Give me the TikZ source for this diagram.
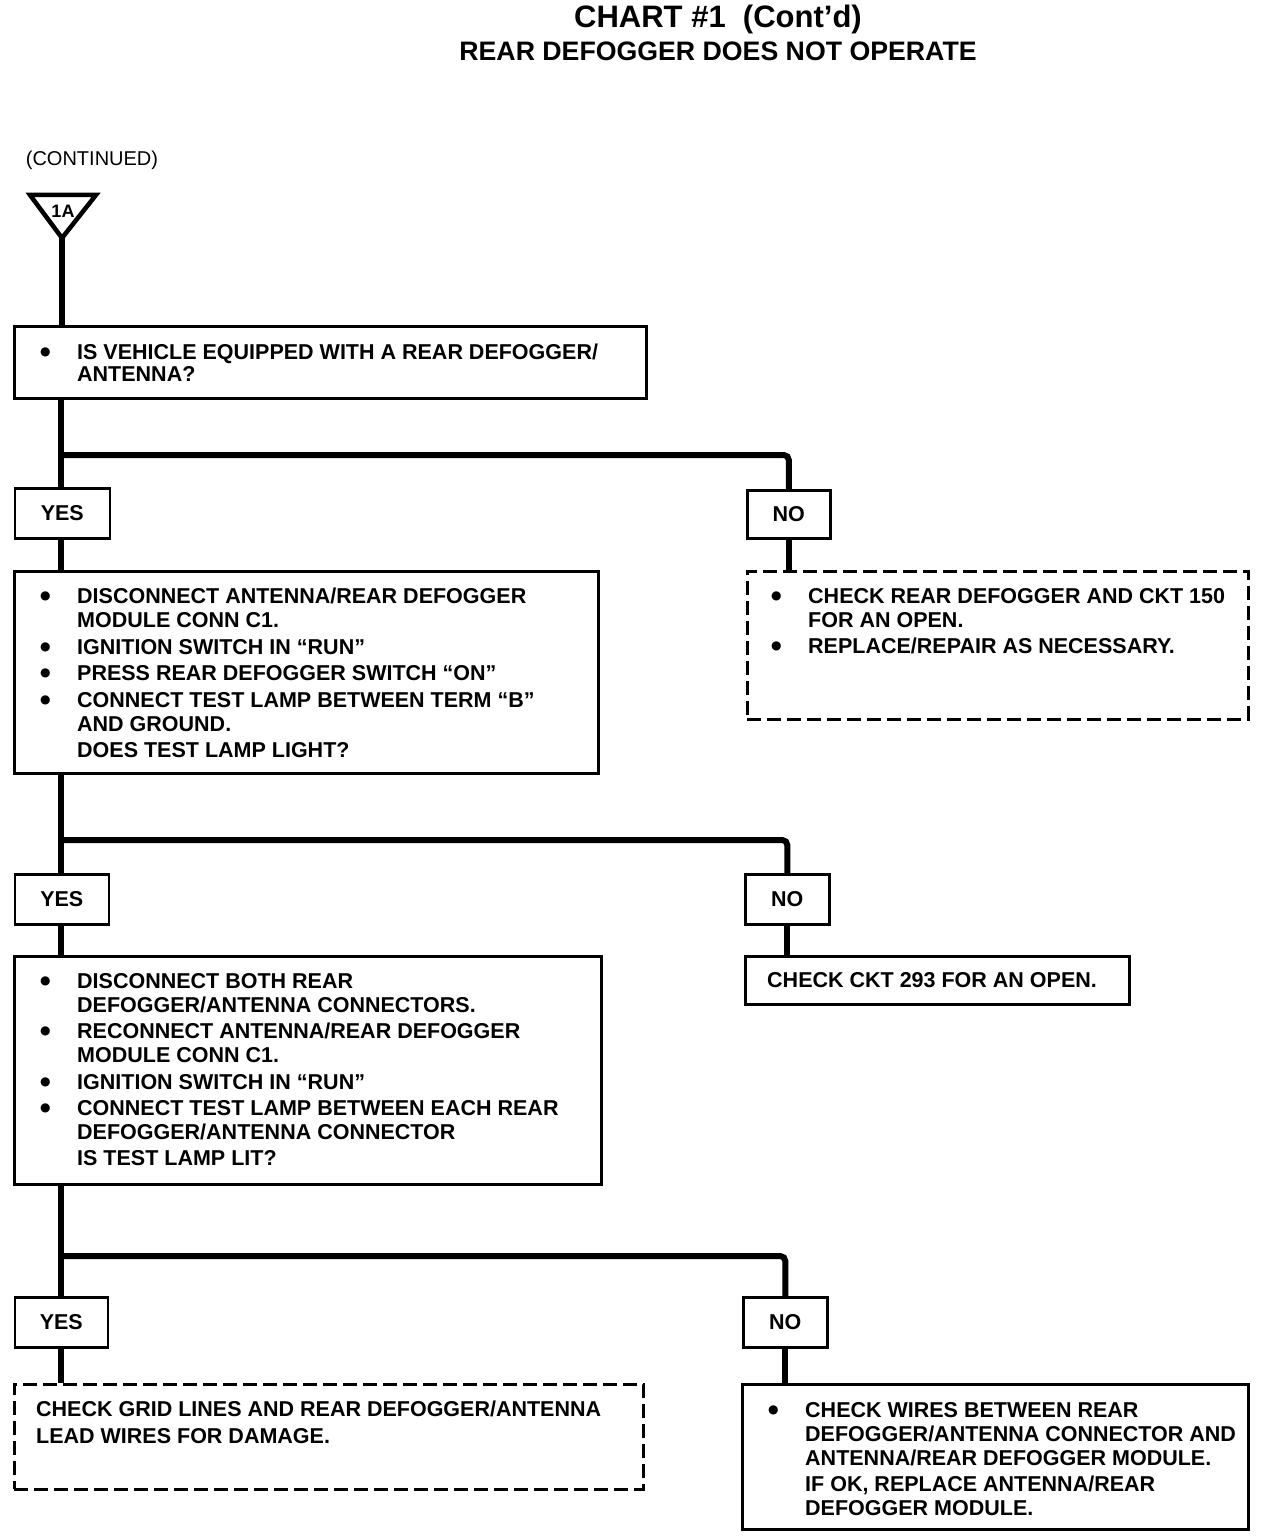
\documentclass[tikz,border=0pt]{standalone}
\usepackage{fontspec}
\setmainfont{Liberation Sans}
\newfontfamily\symf{DejaVu Sans}
\newcommand{\labfont}{\bfseries\fontsize{21.5}{24}\selectfont}
\newcommand{\bul}{\makebox[37pt][l]{\raisebox{4pt}{\symf\fontsize{12}{12}\selectfont ●}}}
\newcommand{\ind}{\hspace*{37pt}}
\tikzset{
  box/.style={draw, line width=2.6pt, rectangle, inner sep=0pt, anchor=north west},
  dbox/.style={box, dash pattern=on 14pt off 6pt},
  conn/.style={line width=6pt},
  lab/.style={font=\labfont, inner sep=0pt},
  txt/.style={font=\labfont, align=left, inner sep=0pt, anchor=north west},
}
\begin{document}
\begin{tikzpicture}[x=1pt,y=-1pt]
\useasboundingbox (0,0) rectangle (1280,1538);
% titles
\node[font=\bfseries\fontsize{31}{31}\selectfont, inner sep=0pt] (t1) at (718,19) {CHART \#1\ \ (Cont’d)};
\node[font=\bfseries\fontsize{26.7}{26.7}\selectfont, inner sep=0pt] (t2) at (718,51) {REAR DEFOGGER DOES NOT OPERATE};
\node[font=\fontsize{20}{20}\selectfont, inner sep=0pt] (cont) at (92,160) {(CONTINUED)};
% off-page connector
\coordinate (apex) at (62,238);
\draw[line width=4.5pt, line join=miter] (30,195) -- (96,195) -- (apex) -- cycle;
\node[font=\bfseries\fontsize{18}{18}\selectfont, inner sep=0pt] (oneA) at (63,211) {1A};
% boxes
\node[box, minimum width=632pt, minimum height=72pt] (b1) at (13,325) {};
\node[box, minimum width=95pt, minimum height=50pt] (y1) at (13.5,487) {};
\node[box, minimum width=83pt, minimum height=48pt] (n1) at (746,489) {};
\node[box, minimum width=584pt, minimum height=202pt] (b2) at (13,570) {};
\node[dbox, minimum width=501pt, minimum height=148pt] (d1) at (746,570) {};
\node[box, minimum width=94pt, minimum height=50pt] (y2) at (13.5,873) {};
\node[box, minimum width=84pt, minimum height=50pt] (n2) at (744,873) {};
\node[box, minimum width=587pt, minimum height=228pt] (b3) at (13,955) {};
\node[box, minimum width=384pt, minimum height=48pt] (c2) at (744,955) {};
\node[box, minimum width=93pt, minimum height=50pt] (y3) at (13.5,1296) {};
\node[box, minimum width=84pt, minimum height=50pt] (n3) at (742,1296) {};
\node[dbox, minimum width=629pt, minimum height=105pt] (d3) at (13,1383) {};
\node[box, minimum width=506pt, minimum height=145pt] (b4) at (741,1383) {};
% labels
\node[lab] (ly1) at (y1.center) {YES};
\node[lab] (ln1) at (n1.center) {NO};
\node[lab] (ly2) at (y2.center) {YES};
\node[lab] (ln2) at (n2.center) {NO};
\node[lab] (ly3) at (y3.center) {YES};
\node[lab] (ln3) at (n3.center) {NO};
% texts
\node[txt, font=\bfseries\fontsize{21.5}{22}\selectfont] (tb1) at (40,344) {\bul IS VEHICLE EQUIPPED WITH A REAR DEFOGGER/\\\ind ANTENNA?};
\node[txt] (tb2) at (40,588) {\bul DISCONNECT ANTENNA/REAR DEFOGGER\\\ind MODULE CONN C1.\\[2.5pt]
\bul IGNITION SWITCH IN “RUN”\\[2.5pt]
\bul PRESS REAR DEFOGGER SWITCH “ON”\\[2.5pt]
\bul CONNECT TEST LAMP BETWEEN TERM “B”\\\ind AND GROUND.\\[2pt]
\ind DOES TEST LAMP LIGHT?};
\node[txt] (td1) at (771,588) {\bul CHECK REAR DEFOGGER AND CKT 150\\\ind FOR AN OPEN.\\[2.5pt]
\bul REPLACE/REPAIR AS NECESSARY.};
\node[txt] (tb3) at (40,973) {\bul DISCONNECT BOTH REAR\\\ind DEFOGGER/ANTENNA CONNECTORS.\\[2.5pt]
\bul RECONNECT ANTENNA/REAR DEFOGGER\\\ind MODULE CONN C1.\\[2.5pt]
\bul IGNITION SWITCH IN “RUN”\\[2.5pt]
\bul CONNECT TEST LAMP BETWEEN EACH REAR\\\ind DEFOGGER/ANTENNA CONNECTOR\\[2pt]
\ind IS TEST LAMP LIT?};
\node[txt] (tc2) at (767,972) {CHECK CKT 293 FOR AN OPEN.};
\node[txt, font=\bfseries\fontsize{21.5}{27}\selectfont] (td3) at (36,1401) {CHECK GRID LINES AND REAR DEFOGGER/ANTENNA\\LEAD WIRES FOR DAMAGE.};
\node[txt] (tb4) at (768,1402) {\bul CHECK WIRES BETWEEN REAR\\\ind DEFOGGER/ANTENNA CONNECTOR AND\\\ind ANTENNA/REAR DEFOGGER MODULE.\\[2pt]
\ind IF OK, REPLACE ANTENNA/REAR\\\ind DEFOGGER MODULE.};
% connectors
\coordinate (j1) at (61,455);
\coordinate (j2) at (61,840);
\coordinate (j3) at (61,1256);
\draw[conn] (apex) -- (apex |- b1.north);
\draw[conn] (b1.south -| j1) -- (y1.north -| j1);
\draw[conn, rounded corners=5pt] (j1) -| (n1.north);
\draw[conn] (y1.south -| j1) -- (b2.north -| j1);
\draw[conn] (n1.south) -- (d1.north -| n1.south);
\draw[conn] (b2.south -| j2) -- (y2.north -| j2);
\draw[conn, rounded corners=5pt] (j2) -| (n2.north);
\draw[conn] (y2.south -| j2) -- (b3.north -| j2);
\draw[conn] (n2.south) -- (c2.north -| n2.south);
\draw[conn] (b3.south -| j3) -- (y3.north -| j3);
\draw[conn, rounded corners=5pt] (j3) -| (n3.north);
\draw[conn] (y3.south -| j3) -- (d3.north -| j3);
\draw[conn] (n3.south) -- (b4.north -| n3.south);
\end{tikzpicture}
\end{document}
